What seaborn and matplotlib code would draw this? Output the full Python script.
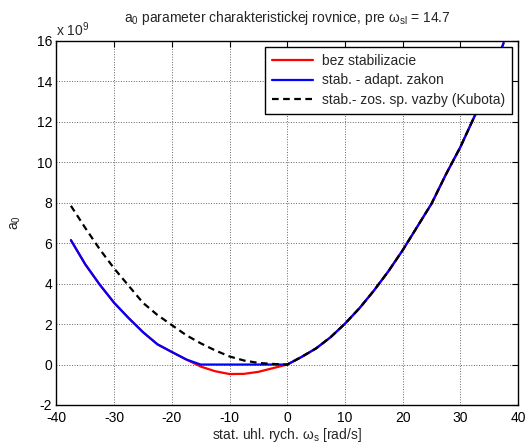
import matplotlib
matplotlib.use("Agg")
import matplotlib.pyplot as plt
import seaborn as sns
import pandas as pd
import numpy as np

# angular speed [rad/s]
x_vals = [-37.5, -35, -32.5, -30, -27.5, -25, -22.5, -20, -17.5, -15, -12.5, -10, -7.5, -5, -2.5,
          0, 2.5, 5, 7.5, 10, 12.5, 15, 17.5, 20, 22.5, 25, 27.5, 30, 32.5, 35, 37.5]
# a0 values, in units of 1e9
right_side = [0.0, 0.38, 0.8, 1.35, 2.02, 2.78, 3.65, 4.6, 5.65, 6.8, 7.95, 9.4, 10.75, 12.3, 14.0, 15.9]
bez_left = [6.15, 4.95, 3.95, 3.05, 2.3, 1.6, 1.0, 0.62, 0.25, -0.1, -0.33, -0.47, -0.46, -0.36, -0.18]
adapt_left = [6.15, 4.95, 3.95, 3.05, 2.3, 1.6, 1.0, 0.62, 0.25, 0.0, 0.0, 0.0, 0.0, 0.0, 0.0]
kubota_left = [7.85, 6.75, 5.7, 4.75, 3.9, 3.05, 2.45, 1.95, 1.45, 1.05, 0.7, 0.4, 0.2, 0.08, 0.03]

bez = bez_left + right_side
adapt = adapt_left + right_side
kubota = kubota_left + right_side

labels = ["bez stabilizacie", "stab. - adapt. zakon", "stab.- zos. sp. vazby (Kubota)"]
x_ticks = [-40, -30, -20, -10, 0, 10, 20, 30, 40]
y_ticks = [-2, 0, 2, 4, 6, 8, 10, 12, 14, 16]

df = pd.concat([
    pd.DataFrame({"x": x_vals, "y": bez, "s": labels[0]}),
    pd.DataFrame({"x": x_vals, "y": adapt, "s": labels[1]}),
    pd.DataFrame({"x": x_vals, "y": kubota, "s": labels[2]}),
])

sns.set_style("white")
plt.rcParams["font.family"] = ["Liberation Sans", "DejaVu Sans"]
plt.rcParams["mathtext.fontset"] = "custom"
plt.rcParams["mathtext.rm"] = "Liberation Sans"
plt.rcParams["mathtext.it"] = "Liberation Sans:italic"
plt.rcParams["axes.unicode_minus"] = False

FS = 10

fig = plt.figure(figsize=(5.25, 4.45), dpi=100)
ax = fig.add_axes([0.1076, 0.0899, 0.8791, 0.818])

sns.lineplot(data=df, x="x", y="y", hue="s", style="s",
             palette={labels[0]: "#ff0000", labels[1]: "#0000ff", labels[2]: "#000000"},
             dashes={labels[0]: "", labels[1]: "", labels[2]: (3, 2)},
             linewidth=1.6, ax=ax, sort=False, estimator=None, legend=True)

ax.set_xlim(-40, 40)
ax.set_ylim(-2, 16)
ax.set_xticks(x_ticks)
ax.set_yticks(y_ticks)
ax.grid(True, linestyle=":", color="#666666", linewidth=0.7)
ax.tick_params(direction="in", length=4, top=True, right=True, labelsize=FS, colors="black")
ax.tick_params(axis="x", pad=4)
ax.tick_params(axis="y", pad=3)
for sp in ax.spines.values():
    sp.set_visible(True)
    sp.set_color("black")
    sp.set_linewidth(1.0)

ax.set_xlabel("stat. uhl. rych. ω$_{\\mathrm{s}}$ [rad/s]", fontsize=FS, labelpad=1)
ax.set_ylabel("a$_0$", fontsize=FS, labelpad=10)
ax.set_title("a$_0$ parameter charakteristickej rovnice, pre ω$_{\\mathrm{sl}}$ = 14.7", fontsize=FS, pad=14)
ax.text(0.0, 1.006, "x 10$^9$", transform=ax.transAxes, fontsize=FS, ha="left", va="bottom")

leg = ax.legend(loc="upper right", frameon=True, fancybox=False, fontsize=FS,
                edgecolor="black", framealpha=1, borderaxespad=0.45,
                handlelength=3.0, handletextpad=0.6, borderpad=0.5, labelspacing=0.38)
leg.get_frame().set_linewidth(1.0)

fig.savefig("out.png", dpi=100)
